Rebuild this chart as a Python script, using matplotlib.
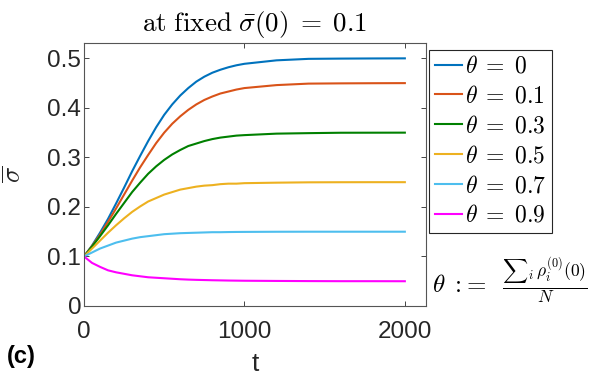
import numpy as np
import matplotlib
matplotlib.use("Agg")
import matplotlib.pyplot as plt

plt.rcParams['mathtext.fontset'] = 'cm'
plt.rcParams['font.family'] = ['Liberation Sans', 'DejaVu Sans']

## data
t = [0, 50, 100, 150, 200, 250, 300, 350, 400, 450, 500, 550, 600, 650, 700,
     750, 800, 850, 900, 950, 1000, 1200, 1400, 1600, 1800, 2000]

s_th0 = [0.100, 0.122, 0.148, 0.176, 0.207, 0.239, 0.272, 0.303, 0.333, 0.361, 0.386,
         0.407, 0.425, 0.440, 0.453, 0.463, 0.471, 0.477, 0.482, 0.486, 0.489,
         0.496, 0.499, 0.4995, 0.4998, 0.500]
s_th1 = [0.100, 0.121, 0.144, 0.170, 0.197, 0.225, 0.253, 0.280, 0.305, 0.329, 0.350,
         0.368, 0.383, 0.396, 0.407, 0.416, 0.423, 0.429, 0.433, 0.437, 0.440,
         0.446, 0.449, 0.4495, 0.4498, 0.450]
s_th3 = [0.100, 0.120, 0.141, 0.163, 0.186, 0.208, 0.230, 0.249, 0.267, 0.282, 0.295,
         0.306, 0.315, 0.323, 0.328, 0.333, 0.337, 0.340, 0.342, 0.344, 0.345,
         0.348, 0.349, 0.3498, 0.3499, 0.350]
s_th5 = [0.100, 0.116, 0.132, 0.148, 0.163, 0.177, 0.190, 0.201, 0.211, 0.218, 0.225,
         0.230, 0.235, 0.238, 0.241, 0.243, 0.244, 0.246, 0.247, 0.247, 0.248,
         0.249, 0.2497, 0.2499, 0.250, 0.250]
s_th7 = [0.100, 0.108, 0.116, 0.122, 0.128, 0.132, 0.136, 0.139, 0.141, 0.143, 0.145,
         0.146, 0.147, 0.1475, 0.148, 0.1485, 0.149, 0.149, 0.1493, 0.1495, 0.1496,
         0.1499, 0.150, 0.150, 0.150, 0.150]
s_th9 = [0.100, 0.087, 0.079, 0.072, 0.068, 0.065, 0.062, 0.060, 0.058, 0.057, 0.056,
         0.055, 0.054, 0.0533, 0.0528, 0.0524, 0.052, 0.0517, 0.0514, 0.0512, 0.051,
         0.0506, 0.0503, 0.0501, 0.0501, 0.050]

series = [s_th0, s_th1, s_th3, s_th5, s_th7, s_th9]
labels = [r'$\theta\;=\;0$', r'$\theta\;=\;0.1$', r'$\theta\;=\;0.3$',
          r'$\theta\;=\;0.5$', r'$\theta\;=\;0.7$', r'$\theta\;=\;0.9$']
colors = ['#0072BD', '#D95319', '#008000', '#EDB120', '#4DBEEE', '#FF00FF']

## plot
fig = plt.figure(figsize=(5.98, 3.82), dpi=100)
ax = fig.add_axes([84/598, 1-306/382, (425.7-84)/598, (306-43)/382])

lines = []
for s, lab, c in zip(series, labels, colors):
    l, = ax.plot(t, s, color=c, lw=1.5, label=lab)
    lines.append(l)

ax.set_xlim(0, 2130)
ax.set_ylim(0, 0.531)
ax.set_xticks([0, 1000, 2000])
ax.set_yticks([0, 0.1, 0.2, 0.3, 0.4, 0.5])
ax.set_yticklabels(['0', '0.1', '0.2', '0.3', '0.4', '0.5'])
ax.tick_params(direction='in', length=3.5, width=0.6, top=True, right=True,
               labelsize=17.5, labelcolor='#262626', color='#262626')
ax.tick_params(axis='x', pad=11)
ax.tick_params(axis='y', pad=2)
for sp in ax.spines.values():
    sp.set_color('#555555')
    sp.set_linewidth(0.8)

ax.set_title(r'$\mathrm{at\ fixed}\ \bar{\sigma}(0)\;=\;0.1$', fontsize=19.5, pad=9)
ax.set_xlabel('t', fontsize=19, color='#262626')
ax.xaxis.set_label_coords(0.5, -0.175)
ax.set_ylabel(r'$\overline{\sigma}$', fontsize=19, color='#262626')
ax.yaxis.set_label_coords(-0.17, 0.5)

leg = fig.legend(handles=lines, loc='upper left',
                 bbox_to_anchor=(429.3/598, 1-50/382), fontsize=17,
                 handlelength=1.15, handletextpad=0.12, labelspacing=0.33,
                 borderpad=0.25, borderaxespad=0, fancybox=False, framealpha=1)
leg.get_frame().set_edgecolor('#262626')
leg.get_frame().set_linewidth(0.8)

fig.text(432/598, 1-281/382,
         r'$\theta\;{:}\!{=}\;\;\frac{{\sum}_i\,\rho_i^{(0)}(0)}{N}$',
         fontsize=18, ha='left', va='center')
fig.text(7/598, 1-356.7/382, '(c)', fontsize=17, fontweight='bold', va='center')

fig.savefig('out.png', dpi=100)
